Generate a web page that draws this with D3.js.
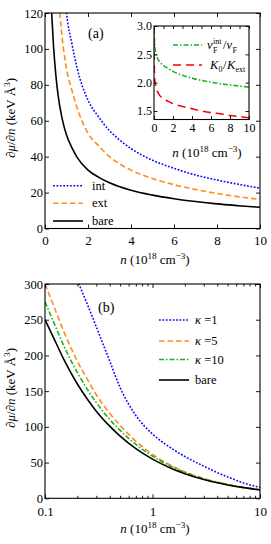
<!DOCTYPE html>
<html>
<head>
<meta charset="utf-8">
<script src="https://cdn.jsdelivr.net/npm/d3@7"></script>
<style>
  body { margin: 0; background: #fff; }
  text { font-family: "Liberation Serif", "DejaVu Serif", serif; fill: #000; }
</style>
</head>
<body>
<script>
// panel (a): dmu/dn vs n, linear axes
const aBareN = [0.3, 0.4, 0.5, 0.6, 0.8, 1, 1.25, 1.5, 2, 2.5, 3, 4, 5, 6, 7, 8, 9, 10];
const aBare = [122, 101, 86, 75, 61, 52, 45, 39.5, 32.5, 28.5, 25.5, 21.3, 18.6, 16.6, 15.0, 13.7, 12.7, 11.8];
const aExtN = [0.65, 0.7, 0.8, 1, 1.25, 1.5, 2, 2.5, 3, 3.5, 4, 5, 6, 7, 8, 9, 10];
const aExt = [125, 118, 106, 89, 77, 67, 53, 46, 40, 35.8, 32.5, 27.8, 24.4, 21.7, 19.5, 17.7, 16.2];
const aIntN = [0.95, 1, 1.25, 1.5, 2, 2.5, 3, 3.5, 4, 5, 6, 7, 8, 9, 10];
const aInt = [126, 120, 103, 89, 71.5, 62, 54.5, 49, 44.5, 38, 33.5, 29.8, 27, 24.6, 22.5];
const aXTicks = [0, 2, 4, 6, 8, 10];
const aYTicks = [0, 20, 40, 60, 80, 100, 120];

// inset of (a): velocity ratio and K ratio
const inVN = [0.01, 0.03, 0.06, 0.1, 0.2, 0.3, 0.5, 0.75, 1, 1.5, 2, 3, 4, 5, 6, 7, 8, 9, 10];
const inV = [3.0, 2.82, 2.7, 2.62, 2.52, 2.46, 2.39, 2.34, 2.30, 2.25, 2.20, 2.13, 2.08, 2.04, 2.01, 1.98, 1.96, 1.94, 1.92];
const inKN = [0.005, 0.02, 0.05, 0.1, 0.2, 0.5, 1, 1.5, 2, 3, 4, 5, 6, 7, 8, 9, 10];
const inK = [3.0, 2.45, 2.15, 2.02, 1.93, 1.80, 1.72, 1.67, 1.63, 1.58, 1.54, 1.50, 1.47, 1.45, 1.42, 1.40, 1.38];
const inXTicks = [0, 2, 4, 6, 8, 10];
const inYTicks = [1.5, 2.0, 2.5, 3.0];

// panel (b): log x axis, several kappa
const bN = [0.1, 0.12, 0.15, 0.2, 0.25, 0.3, 0.4, 0.5, 0.7, 1, 1.5, 2, 3, 4, 5, 7, 10];
const bBare = [250, 225, 194, 160, 138, 122, 101, 87, 69.5, 54.8, 41.8, 34.5, 26.3, 21.7, 18.7, 15, 11.8];
const bK10 = [275, 247, 213, 176, 151.5, 134, 110.5, 95, 75.5, 59, 44.5, 36.3, 27.2, 22.3, 19.2, 15.3, 11.9];
const bK5 = [300, 270, 233, 192, 165.5, 145, 119, 102, 80, 61.4, 45.6, 36.9, 27.6, 22.6, 19.4, 15.5, 12.0];
const bK1N = [0.2, 0.25, 0.3, 0.4, 0.5, 0.7, 1, 1.5, 2, 3, 4, 5, 7, 10];
const bK1 = [305, 270, 240, 192, 155, 116, 90, 70, 58.5, 45, 36, 30, 21.5, 15.2];
const bXTicks = [0.1, 1, 10];
const bYTicks = [0, 50, 100, 150, 200, 250, 300];

const BLUE = '#0a0aff', ORANGE = '#ff8c1a', GREEN = '#1db31d', RED = '#ff0000';

const svg = d3.select('body').append('svg')
  .attr('width', 271)
  .attr('height', 544);

function zip(xs, ys) { return xs.map((v, i) => [v, ys[i]]); }

function curve(g, x, y, pts, color, dash, clipId) {
  g.append('path')
    .datum(pts)
    .attr('clip-path', `url(#${clipId})`)
    .attr('fill', 'none')
    .attr('stroke', color)
    .attr('stroke-width', 1.6)
    .attr('stroke-dasharray', dash)
    .attr('d', d3.line().x(d => x(d[0])).y(d => y(d[1])).curve(d3.curveMonotoneX));
}

function clip(id, x0, y0, x1, y1) {
  svg.append('clipPath').attr('id', id)
    .append('rect').attr('x', x0).attr('y', y0).attr('width', x1 - x0).attr('height', y1 - y0);
}

function styleAxis(g, size) {
  g.attr('font-family', null).attr('font-size', size);
  g.select('.domain').remove();
  g.selectAll('line').attr('stroke-width', 0.9);
}

function box(x0, y0, x1, y1) {
  svg.append('rect')
    .attr('x', x0).attr('y', y0)
    .attr('width', x1 - x0).attr('height', y1 - y0)
    .attr('fill', 'none').attr('stroke', '#000').attr('stroke-width', 1.1);
}

function nLabel(x, y, size) {
  const t = svg.append('text').attr('x', x).attr('y', y)
    .attr('text-anchor', 'middle').attr('font-size', size);
  t.append('tspan').attr('font-style', 'italic').text('n');
  t.append('tspan').text(' (10');
  t.append('tspan').attr('dy', -5).attr('font-size', size * 0.7).text('18');
  t.append('tspan').attr('dy', 5).text(' cm');
  t.append('tspan').attr('dy', -5).attr('font-size', size * 0.7).text('\u22123');
  t.append('tspan').attr('dy', 5).text(')');
}

function yLabel(cx, cy) {
  const t = svg.append('text')
    .attr('transform', `translate(${cx},${cy}) rotate(-90)`)
    .attr('text-anchor', 'middle').attr('font-size', 13);
  t.append('tspan').text('\u2202');
  t.append('tspan').attr('font-style', 'italic').text('\u03bc');
  t.append('tspan').text('/\u2202');
  t.append('tspan').attr('font-style', 'italic').text('n');
  t.append('tspan').text(' (keV \u00c5');
  t.append('tspan').attr('dy', -5).attr('font-size', 9).text('3');
  t.append('tspan').attr('dy', 5).text(')');
}

function legendRow(x0, x1, y, color, dash, tx) {
  svg.append('line')
    .attr('x1', x0).attr('x2', x1).attr('y1', y).attr('y2', y)
    .attr('stroke', color).attr('stroke-width', 1.6).attr('stroke-dasharray', dash);
  return svg.append('text').attr('x', tx).attr('y', y + 4).attr('font-size', 12.5);
}

// ---------- panel (a)
const xa = d3.scaleLinear().domain([0, 10]).range([45, 260]);
const ya = d3.scaleLinear().domain([0, 120]).range([228.5, 13]);
clip('clipA', 45, 13, 260, 228.5);

const ga = svg.append('g');
curve(ga, xa, ya, zip(aIntN, aInt), BLUE, '1.8,1.6', 'clipA');
curve(ga, xa, ya, zip(aExtN, aExt), ORANGE, '5.5,3', 'clipA');
curve(ga, xa, ya, zip(aBareN, aBare), '#000', null, 'clipA');

svg.append('g').attr('transform', 'translate(0,228.5)')
  .call(d3.axisBottom(xa).tickValues(aXTicks).tickSize(-4).tickSizeOuter(0).tickPadding(7))
  .call(g => styleAxis(g, 13));
svg.append('g').attr('transform', 'translate(0,13)')
  .call(d3.axisTop(xa).tickValues(aXTicks).tickSize(-4).tickSizeOuter(0).tickFormat(''))
  .call(g => styleAxis(g, 13));
svg.append('g').attr('transform', 'translate(45,0)')
  .call(d3.axisLeft(ya).tickValues(aYTicks).tickSize(-4).tickSizeOuter(0).tickPadding(2))
  .call(g => styleAxis(g, 12.5));
svg.append('g').attr('transform', 'translate(260,0)')
  .call(d3.axisRight(ya).tickValues(aYTicks).tickSize(-4).tickSizeOuter(0).tickFormat(''))
  .call(g => styleAxis(g, 12.5));
box(45, 13, 260, 228.5);

svg.append('text').attr('x', 88).attr('y', 38).attr('font-size', 14).text('(a)');
nLabel(155, 264, 13);
yLabel(15, 118);

legendRow(53, 83, 185.7, BLUE, '1.8,1.6', 92).text('int');
legendRow(53, 83, 203.3, ORANGE, '5.5,3', 92).text('ext');
legendRow(53, 83, 221, '#000', null, 92).text('bare');

// ---------- inset
const xi = d3.scaleLinear().domain([0, 10]).range([154, 249]);
const yi = d3.scaleLinear().domain([1.35, 3.0]).range([119.5, 26]);
svg.append('rect').attr('x', 154).attr('y', 26).attr('width', 95).attr('height', 93.5).attr('fill', '#fff');
clip('clipI', 154, 26, 249, 119.5);
const gi = svg.append('g');
curve(gi, xi, yi, zip(inVN, inV), GREEN, '5,2,1.5,2', 'clipI');
curve(gi, xi, yi, zip(inKN, inK), RED, '8,5', 'clipI');

svg.append('g').attr('transform', 'translate(0,119.5)')
  .call(d3.axisBottom(xi).tickValues(inXTicks).tickSize(-3.5).tickSizeOuter(0).tickPadding(4))
  .call(g => styleAxis(g, 12));
svg.append('g').attr('transform', 'translate(0,26)')
  .call(d3.axisTop(xi).tickValues(d3.range(0, 11, 1)).tickSize(-3).tickSizeOuter(0).tickFormat(''))
  .call(g => styleAxis(g, 12));
svg.append('g').attr('transform', 'translate(154,0)')
  .call(d3.axisLeft(yi).tickValues(inYTicks).tickSize(-3.5).tickSizeOuter(0).tickPadding(2).tickFormat(d3.format('.1f')))
  .call(g => styleAxis(g, 12));
svg.append('g').attr('transform', 'translate(249,0)')
  .call(d3.axisRight(yi).tickValues(inYTicks).tickSize(-3.5).tickSizeOuter(0).tickFormat(''))
  .call(g => styleAxis(g, 12));
box(154, 26, 249, 119.5);
nLabel(207, 157, 13);

// inset legend
svg.append('line').attr('x1', 173).attr('x2', 202).attr('y1', 45).attr('y2', 45)
  .attr('stroke', GREEN).attr('stroke-width', 1.6).attr('stroke-dasharray', '5,2,1.5,2');
svg.append('text').attr('x', 207).attr('y', 49).attr('font-size', 12.5).attr('font-style', 'italic').text('v');
svg.append('text').attr('x', 213).attr('y', 43.5).attr('font-size', 8).text('int');
svg.append('text').attr('x', 213).attr('y', 52.5).attr('font-size', 8).text('F');
svg.append('text').attr('x', 223).attr('y', 49).attr('font-size', 12.5).text('/');
svg.append('text').attr('x', 226.5).attr('y', 49).attr('font-size', 12.5).attr('font-style', 'italic').text('v');
svg.append('text').attr('x', 232.5).attr('y', 52.5).attr('font-size', 8).text('F');

svg.append('line').attr('x1', 173).attr('x2', 202).attr('y1', 65).attr('y2', 65)
  .attr('stroke', RED).attr('stroke-width', 1.6).attr('stroke-dasharray', '8,5');
svg.append('text').attr('x', 210).attr('y', 69).attr('font-size', 12.5).attr('font-style', 'italic').text('K');
svg.append('text').attr('x', 218.5).attr('y', 72).attr('font-size', 8).text('0');
svg.append('text').attr('x', 223).attr('y', 69).attr('font-size', 12.5).text('/');
svg.append('text').attr('x', 227).attr('y', 69).attr('font-size', 12.5).attr('font-style', 'italic').text('K');
svg.append('text').attr('x', 235.5).attr('y', 72).attr('font-size', 8).text('ext');

// ---------- panel (b)
const xb = d3.scaleLog().domain([0.1, 10]).range([45, 260]);
const yb = d3.scaleLinear().domain([0, 300]).range([498.3, 284]);
clip('clipB', 45, 284, 260, 498.3);

const gb = svg.append('g');
curve(gb, xb, yb, zip(bK1N, bK1), BLUE, '1.8,1.6', 'clipB');
curve(gb, xb, yb, zip(bN, bK5), ORANGE, '5.5,3', 'clipB');
curve(gb, xb, yb, zip(bN, bK10), GREEN, '5,2,1.5,2', 'clipB');
curve(gb, xb, yb, zip(bN, bBare), '#000', null, 'clipB');

const minorB = xb.ticks().filter(v => !bXTicks.includes(v));
svg.append('g').attr('transform', 'translate(0,498.3)')
  .call(d3.axisBottom(xb).tickValues(bXTicks).tickSize(-4).tickSizeOuter(0).tickPadding(8).tickFormat(d3.format('~g')))
  .call(g => styleAxis(g, 13));
svg.append('g').attr('transform', 'translate(0,498.3)')
  .call(d3.axisBottom(xb).tickValues(minorB).tickSize(-2.5).tickSizeOuter(0).tickFormat(''))
  .call(g => styleAxis(g, 13));
svg.append('g').attr('transform', 'translate(0,284)')
  .call(d3.axisTop(xb).tickValues(bXTicks).tickSize(-4).tickSizeOuter(0).tickFormat(''))
  .call(g => styleAxis(g, 13));
svg.append('g').attr('transform', 'translate(0,284)')
  .call(d3.axisTop(xb).tickValues(minorB).tickSize(-2.5).tickSizeOuter(0).tickFormat(''))
  .call(g => styleAxis(g, 13));
svg.append('g').attr('transform', 'translate(45,0)')
  .call(d3.axisLeft(yb).tickValues(bYTicks).tickSize(-4).tickSizeOuter(0).tickPadding(2))
  .call(g => styleAxis(g, 12.5));
svg.append('g').attr('transform', 'translate(260,0)')
  .call(d3.axisRight(yb).tickValues(bYTicks).tickSize(-4).tickSizeOuter(0).tickFormat(''))
  .call(g => styleAxis(g, 12.5));
box(45, 284, 260, 498.3);

svg.append('text').attr('x', 98).attr('y', 312).attr('font-size', 14).text('(b)');
nLabel(155, 533, 13);
yLabel(15, 388);

function kappaRow(y, color, dash, val) {
  const t = legendRow(159, 189, y, color, dash, 195);
  t.append('tspan').attr('font-style', 'italic').text('\u03ba');
  t.append('tspan').text(' =' + val);
}
kappaRow(320, BLUE, '1.8,1.6', 1);
kappaRow(341, ORANGE, '5.5,3', 5);
kappaRow(359.5, GREEN, '5,2,1.5,2', 10);
legendRow(159, 189, 380, '#000', null, 195).text('bare');
</script>
</body>
</html>
